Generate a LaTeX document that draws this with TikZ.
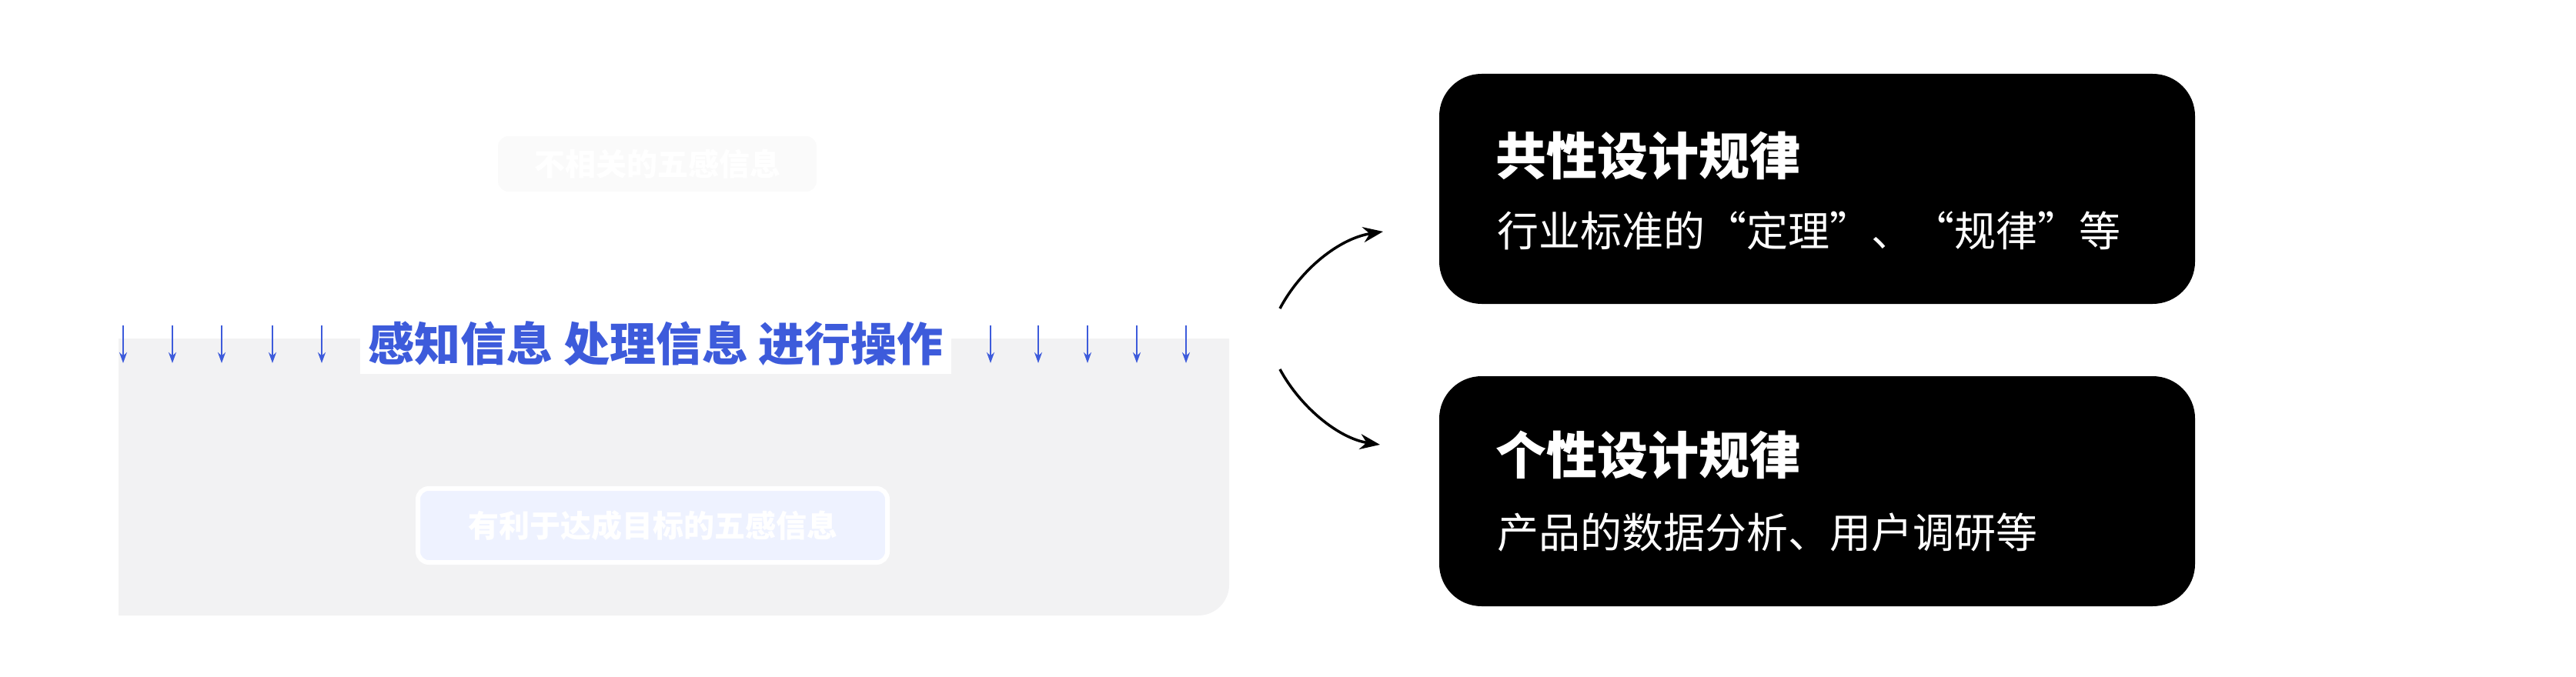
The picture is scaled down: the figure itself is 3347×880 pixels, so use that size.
\documentclass[tikz,border=0pt]{standalone}
\usepackage{fontspec}
\newfontfamily\cjk{Noto Sans CJK SC}
\usetikzlibrary{arrows.meta}
\definecolor{blu}{HTML}{3D5BDB}
\definecolor{panel}{HTML}{F2F2F3}
\definecolor{fblue}{HTML}{EEF2FF}
\tikzset{
  card/.style={fill=black,rounded corners=55pt},
  ttl/.style={anchor=west,text=white,font=\cjk\bfseries\fontsize{66}{70}\selectfont},
  sub/.style={anchor=west,text=white,font=\cjk\fontsize{54}{60}\selectfont},
  dn/.style={blu,line width=2.5pt,-{Stealth[length=14pt,width=10pt]}},
  cur/.style={black,line width=3.5pt,-{Stealth[length=26pt,width=20pt]}},
  faint/.style={rounded corners=14pt,text=white,font=\cjk\bfseries\fontsize{40}{44}\selectfont}
}
\begin{document}
\begin{tikzpicture}[x=1pt,y=-1pt]
\useasboundingbox (0,0) rectangle (3347,880);
\fill[white] (0,0) rectangle (3347,880);
% grey panel
\fill[panel] (154,440) -- (1597,440) -- (1597,760) arc[start angle=0,end angle=90,x radius=40pt,y radius=-40pt] -- (154,800) -- cycle;
% faint boxes
\node[faint,fill=gray!4,minimum width=414pt,minimum height=72pt] (irr) at (854,213) {不相关的五感信息};
\node[faint,fill=fblue,draw=white,line width=6pt,minimum width=610pt,minimum height=96pt] (rel) at (848,683) {有利于达成目标的五感信息};
% blue text
\node[fill=white,text=blu,font=\cjk\bfseries\fontsize{60}{64}\selectfont,inner sep=10pt] (main) at (852,447) {感知信息 处理信息 进行操作};
% arrows
\foreach \x [count=\i] in {160,224,288,354,418,1287,1349,1413,1477,1541}{
  \coordinate (a\i) at (\x,423);
  \coordinate (b\i) at (\x,472);
  \draw[dn] (a\i) -- (b\i);
}
% cards
\path[card] (1870,96) rectangle (2852,395);
\path[card] (1870,489) rectangle (2852,788);
\node[ttl] (t1) at (1940,203) {共性设计规律};
\node[sub] (s1) at (1942,300) {行业标准的“定理”、“规律”等};
\node[ttl] (t2) at (1940,591) {个性设计规律};
\node[sub] (s2) at (1942,692) {产品的数据分析、用户调研等};
\coordinate (c1s) at (1663,401);
\coordinate (c1e) at (1797,301);
\coordinate (c2s) at (1663,480);
\coordinate (c2e) at (1793,578);
\draw[cur] (c1s) .. controls (1690,350) and (1740,310) .. (c1e);
\draw[cur] (c2s) .. controls (1690,530) and (1740,570) .. (c2e);
\end{tikzpicture}
\end{document}
